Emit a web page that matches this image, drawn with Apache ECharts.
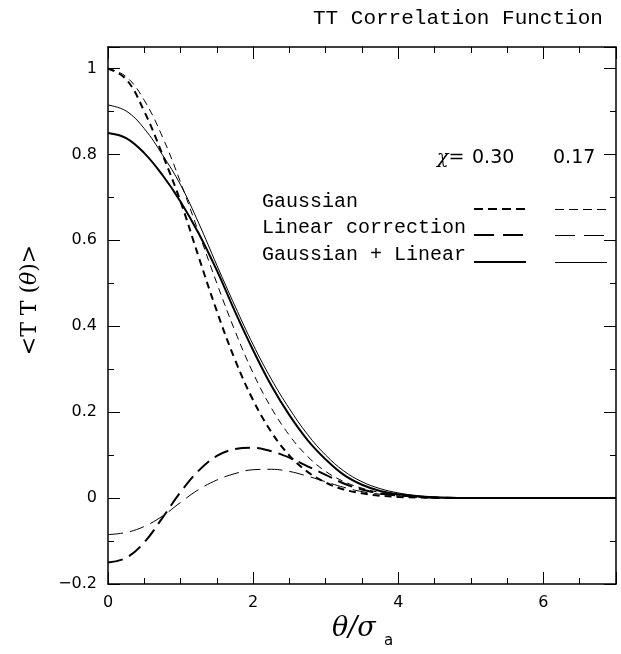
<!DOCTYPE html>
<html>
<head>
<meta charset="utf-8">
<script src="https://cdn.jsdelivr.net/npm/echarts@6/dist/echarts.min.js"></script>
<style>
html, body { margin: 0; padding: 0; background: #fff; }
#chart { width: 621px; height: 654px; }
</style>
</head>
<body>
<div id="chart"></div>
<script>
// theta / sigma_a
const theta = [0, 0.25, 0.5, 0.75, 1, 1.25, 1.5, 1.75, 2, 2.25, 2.5, 2.75, 3, 3.25, 3.5, 3.75, 4, 4.25, 4.5, 4.75, 5, 5.5, 6, 6.5, 7]

// chi = 0.30
const gauss030 = [1.000, 0.975, 0.900, 0.800, 0.690, 0.561, 0.435, 0.322, 0.228, 0.154, 0.099, 0.061, 0.036, 0.020, 0.011, 0.0055, 0.0027, 0.0013, 0.0006, 0.0002, 0, 0, 0, 0, 0]
const linear030 = [-0.150, -0.139, -0.103, -0.046, 0.014, 0.064, 0.098, 0.114, 0.117, 0.109, 0.094, 0.074, 0.054, 0.034, 0.020, 0.011, 0.006, 0.003, 0.001, 0.0004, 0, 0, 0, 0, 0]
const total030 = [0.850, 0.838, 0.803, 0.752, 0.690, 0.616, 0.530, 0.434, 0.344, 0.262, 0.193, 0.135, 0.090, 0.054, 0.031, 0.0165, 0.0087, 0.0043, 0.0016, 0.0006, 0, 0, 0, 0, 0]

// chi = 0.17
const gauss017 = [1.000, 0.981, 0.926, 0.841, 0.735, 0.618, 0.500, 0.389, 0.291, 0.210, 0.146, 0.097, 0.062, 0.0385, 0.023, 0.013, 0.0072, 0.0038, 0.0019, 0.0009, 0.0003, 0, 0, 0, 0]
const linear017 = [-0.085, -0.080, -0.066, -0.042, -0.010, 0.020, 0.042, 0.057, 0.066, 0.067, 0.062, 0.051, 0.038, 0.025, 0.015, 0.009, 0.005, 0.0025, 0.001, 0.0004, 0, 0, 0, 0, 0]
const total017 = [0.915, 0.901, 0.860, 0.799, 0.729, 0.640, 0.542, 0.447, 0.357, 0.277, 0.208, 0.148, 0.100, 0.063, 0.038, 0.022, 0.012, 0.006, 0.003, 0.0013, 0.0003, 0, 0, 0, 0]

const legendRows = ['Gaussian', 'Linear correction', 'Gaussian + Linear']
const chiValues = ['0.30', '0.17']

function pairs(ys) {
  return theta.map((x, i) => [x, ys[i]])
}

const serif = 'DejaVu Serif'
const mono = 'Liberation Mono'
const sans = 'DejaVu Sans'
const black = '#000'

function axisCommon(show) {
  return {
    type: 'value',
    axisLine: { show: true, onZero: false, lineStyle: { color: black, width: 1.5 } },
    axisTick: { show: true, inside: true, length: 12, lineStyle: { color: black, width: 1 } },
    minorTick: { show: true, length: 6, lineStyle: { color: black, width: 1 } },
    splitLine: { show: false },
    minorSplitLine: { show: false },
    axisLabel: {
      show: show,
      showMaxLabel: false,
      color: black,
      fontFamily: sans,
      fontSize: 16,
      margin: 11,
      formatter: v => String(+v.toFixed(2)).replace('-', '\u2212')
    }
  }
}

const xBottom = Object.assign(axisCommon(true), { position: 'bottom', min: 0, max: 7, interval: 2 })
xBottom.minorTick.splitNumber = 4
const xTop = Object.assign(axisCommon(false), { position: 'top', min: 0, max: 7, interval: 2 })
xTop.minorTick.splitNumber = 4
const yLeft = Object.assign(axisCommon(true), { position: 'left', min: -0.2, max: 1.05, interval: 0.2 })
yLeft.minorTick.splitNumber = 2
const yRight = Object.assign(axisCommon(false), { position: 'right', min: -0.2, max: 1.05, interval: 0.2 })
yRight.minorTick.splitNumber = 2

function lineSeries(name, ys, width, dash) {
  return {
    name: name,
    type: 'line',
    data: pairs(ys),
    smooth: 0.4,
    showSymbol: false,
    symbol: 'none',
    silent: true,
    lineStyle: { color: black, width: width, type: dash }
  }
}

const shortDash = [7, 5]
const longDash = [15, 7]

// legend decoration
const legendGraphic = [
  {
    type: 'text', left: 437, top: 149,
    style: { text: '\u03c7=', fontFamily: serif, fontStyle: 'italic', fontSize: 19, fill: black }
  },
  {
    type: 'text', left: 472, top: 149,
    style: { text: chiValues[0], fontFamily: sans, fontSize: 19, fill: black }
  },
  {
    type: 'text', left: 553, top: 149,
    style: { text: chiValues[1], fontFamily: sans, fontSize: 19, fill: black }
  }
]
const rowY = [203, 229, 256]
const sampleDash = [[9, 5], [20, 9], null]
legendRows.forEach((t, i) => {
  legendGraphic.push({
    type: 'text', left: 262, top: rowY[i] - 11,
    style: { text: t, fontFamily: mono, fontSize: 20, fill: black }
  })
  legendGraphic.push({
    type: 'line',
    shape: { x1: 474, y1: rowY[i] + 6, x2: 526, y2: rowY[i] + 6 },
    style: { stroke: black, lineWidth: 2, lineDash: sampleDash[i] }
  })
  legendGraphic.push({
    type: 'line',
    shape: { x1: 555, y1: rowY[i] + 6.5, x2: 607, y2: rowY[i] + 6.5 },
    style: { stroke: black, lineWidth: 1, lineDash: sampleDash[i] }
  })
})

const option = {
  backgroundColor: '#fff',
  animation: false,
  grid: { left: 108, right: 5, top: 47, bottom: 70 },
  xAxis: [xBottom, xTop],
  yAxis: [yLeft, yRight],
  series: [
    lineSeries('Gaussian 0.30', gauss030, 2, shortDash),
    lineSeries('Gaussian 0.17', gauss017, 1, shortDash),
    lineSeries('Linear 0.30', linear030, 2, longDash),
    lineSeries('Linear 0.17', linear017, 1, longDash),
    lineSeries('Gaussian + Linear 0.30', total030, 2, 'solid'),
    lineSeries('Gaussian + Linear 0.17', total017, 1, 'solid')
  ],
  graphic: [
    {
      type: 'text', left: 313, top: 8,
      style: { text: 'TT Correlation Function', fontFamily: mono, fontSize: 21, fill: black }
    },
    {
      type: 'text', x: 30, y: 300, rotation: Math.PI / 2,
      style: {
        text: '{n|<T T (}{i|\u03b8}{n|)>}',
        align: 'center', verticalAlign: 'middle',
        rich: {
          n: { fontFamily: serif, fontSize: 22, fill: black },
          i: { fontFamily: serif, fontStyle: 'italic', fontSize: 22, fill: black }
        }
      }
    },
    {
      type: 'text', left: 332, top: 615,
      style: { text: '\u03b8/\u03c3', fontFamily: serif, fontStyle: 'italic', fontSize: 27, fill: black }
    },
    {
      type: 'text', left: 384, top: 634,
      style: { text: 'a', fontFamily: sans, fontSize: 15, fill: black }
    }
  ].concat(legendGraphic)
}

const myChart = echarts.init(document.getElementById('chart'))
myChart.setOption(option)
</script>
</body>
</html>
